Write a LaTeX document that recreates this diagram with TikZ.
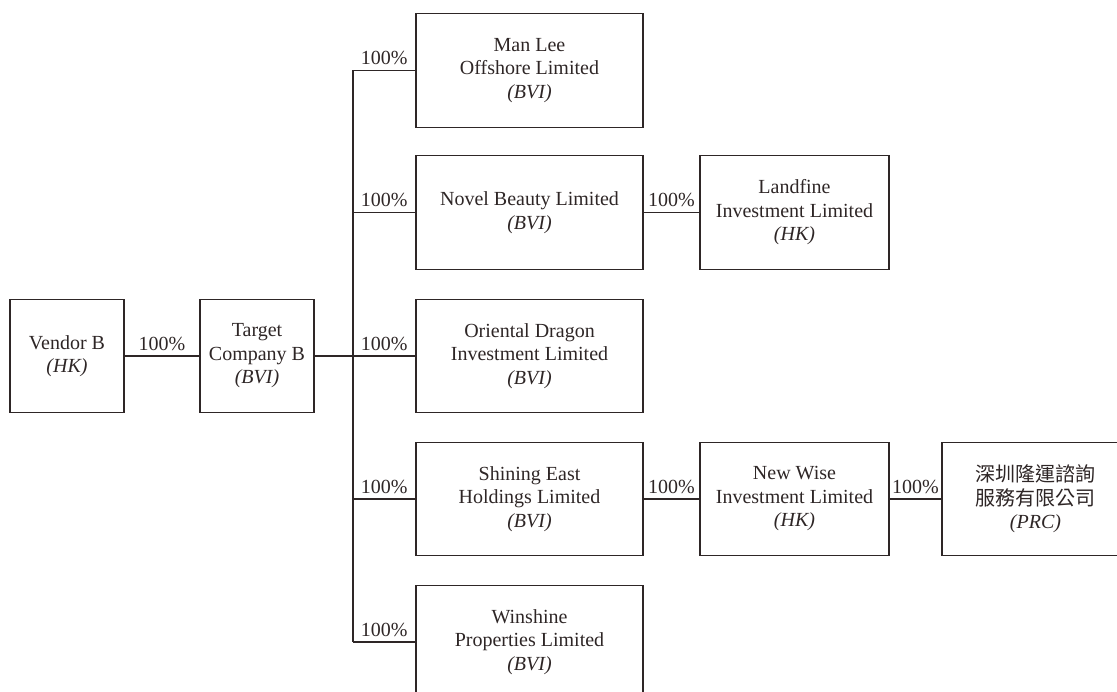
\documentclass[tikz,border=0pt]{standalone}
\usepackage{fontspec}
\setmainfont{Liberation Serif}
\newfontfamily\cjk{Noto Sans CJK TC}
\definecolor{ink}{HTML}{2E2626}
\begin{document}
\begin{tikzpicture}[x=1pt,y=-1pt,
  box/.style={draw=ink, line width=1.2pt, rectangle, inner sep=0pt, align=center,
    text=ink, font=\fontsize{20}{23.5}\selectfont, minimum height=113.5pt},
  sbox/.style={box, minimum width=114pt},
  mbox/.style={box, minimum width=227pt},
  rbox/.style={box, minimum width=189pt},
  lbl/.style={above, inner sep=5pt, text=ink, font=\fontsize{20}{23.5}\selectfont},
  link/.style={draw=ink, line width=1.2pt}]
\useasboundingbox (0,0) rectangle (1117,692);
\clip (0,0) rectangle (1117,692);
\node[sbox] (vb) at (67,356) {Vendor B\\\textit{(HK)}};
\node[sbox] (tb) at (257,356) {Target\\Company B\\\textit{(BVI)}};
\node[mbox] (ml) at (529.5,70.5) {Man Lee\\Offshore Limited\\\textit{(BVI)}};
\node[mbox] (nb) at (529.5,212.5) {Novel Beauty Limited\\\textit{(BVI)}};
\node[mbox] (od) at (529.5,356) {Oriental Dragon\\Investment Limited\\\textit{(BVI)}};
\node[mbox] (se) at (529.5,499) {Shining East\\Holdings Limited\\\textit{(BVI)}};
\node[mbox] (ws) at (529.5,642) {Winshine\\Properties Limited\\\textit{(BVI)}};
\node[rbox] (lf) at (794.5,212.5) {Landfine\\Investment Limited\\\textit{(HK)}};
\node[rbox] (nw) at (794.5,499) {New Wise\\Investment Limited\\\textit{(HK)}};
\node[box, minimum width=187pt] (prc) at (1035.5,499) {{\cjk 深圳隆運諮詢}\\{\cjk 服務有限公司}\\\textit{(PRC)}};
\coordinate (t) at (353,356);
\path[link] (vb.east) -- node[lbl] {100\%} (tb.west);
\path[link] (tb.east) -- (od.west);
\path[link] (ml.west -| t) -- (ws.west -| t);
\path[link] (ml.west -| t) -- node[lbl] {100\%} (ml.west);
\path[link] (nb.west -| t) -- node[lbl] {100\%} (nb.west);
\path[link] (od.west -| t) -- node[lbl] {100\%} (od.west);
\path[link] (se.west -| t) -- node[lbl] {100\%} (se.west);
\path[link] (ws.west -| t) -- node[lbl] {100\%} (ws.west);
\path[link] (nb.east) -- node[lbl] {100\%} (lf.west);
\path[link] (se.east) -- node[lbl] {100\%} (nw.west);
\path[link] (nw.east) -- node[lbl] {100\%} (prc.west);
\end{tikzpicture}
\end{document}
